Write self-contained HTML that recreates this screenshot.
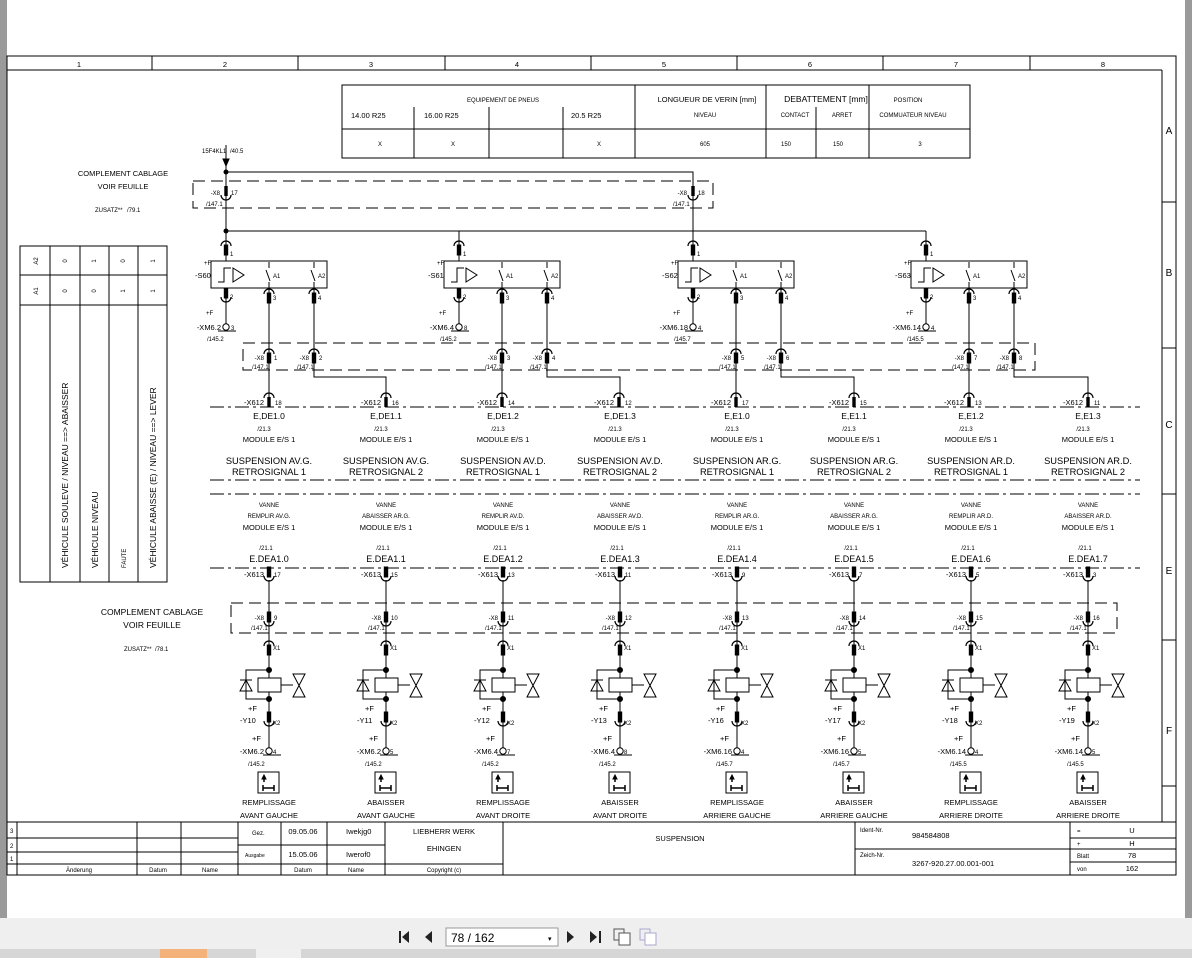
<!DOCTYPE html>
<html><head><meta charset="utf-8"><style>
html,body{margin:0;padding:0;width:1192px;height:958px;overflow:hidden;background:#9a9a9a;font-family:"Liberation Sans",sans-serif}
svg{position:absolute;left:0;top:0}
text{font-family:"Liberation Sans",sans-serif;fill:#000}
.s{font-size:6px}.m{font-size:7.5px}.l{font-size:9.5px}.c{text-anchor:middle}.r{text-anchor:end}
</style></head><body>
<svg width="1192" height="958" viewBox="0 0 1192 958">
<defs>
<g id="cu"><path d="M-5,5 A5,5 0 0 1 5,5" fill="none" stroke="#000" stroke-width="1.2"/><rect x="-1.7" y="4" width="3.4" height="10" fill="#000"/></g>
<g id="cd"><rect x="-1.7" y="0" width="3.4" height="10" fill="#000"/><path d="M-5,9 A5,5 0 0 0 5,9" fill="none" stroke="#000" stroke-width="1.2"/></g>
<g id="sw" stroke="#000" fill="none" stroke-width="1">
<line x1="0" y1="231" x2="0" y2="261"/>
<rect x="-15" y="261" width="116" height="27" fill="#fff"/>
<line x1="0" y1="288" x2="0" y2="324"/>
<circle cx="0" cy="327" r="3.2" fill="#fff"/>
<line x1="-8" y1="331" x2="10" y2="331"/>
<path d="M-8,282 H-2 V268 H5"/><path d="M7,268 L7,282 L18,275 Z"/>
<path d="M43,262 V268 M40,270 L44,281 M43,282 V288"/>
<path d="M88,262 V268 M85,270 L89,281 M88,282 V288"/>
<path d="M43,289 V398"/>
<use href="#cu" y="241"/><use href="#cd" y="288"/><use href="#cu" x="43" y="289"/><use href="#cu" x="88" y="289"/>
<use href="#cu" x="43" y="349"/><use href="#cu" x="88" y="349"/>
</g>
<g id="vv" stroke="#000" fill="none" stroke-width="1">
<line x1="0" y1="580" x2="0" y2="748"/>
<path d="M0,670 H-23 V699 H0"/>
<rect x="-11" y="678" width="23" height="14" fill="#fff"/>
<path d="M-29,691 H-17 L-23,680 Z M-29,680 H-17"/>
<path d="M12,685 H24 M24,674 H36 L24,697 H36 Z"/>
<circle cx="0" cy="670" r="2.5" fill="#000"/><circle cx="0" cy="699" r="2.5" fill="#000"/>
<circle cx="0" cy="751" r="3.2" fill="#fff"/><line x1="-6" y1="755" x2="12" y2="755"/>
<rect x="-11" y="772" width="21" height="21"/>
<path d="M-6,788 H5 M-6,785 V791 M5,785 V791" stroke-width="1.5"/>
<path d="M-5,782 V776" stroke-width="1.5"/><path d="M-7,779 L-5,775 L-3,779 Z" fill="#000"/>
<use href="#cd" y="567"/><use href="#cd" y="612"/><use href="#cu" y="641"/><use href="#cd" y="712"/>
</g>
</defs>

<rect x="7" y="0" width="1178" height="918" fill="#fff"/>
<rect x="0" y="918" width="1192" height="40" fill="#efefef"/>
<rect x="0" y="949" width="1192" height="9" fill="#d6d6d6"/>
<rect x="160" y="949" width="47" height="9" fill="#f4b27a"/>
<rect x="256" y="949" width="45" height="9" fill="#f0f0f0"/>

<!-- frame -->
<g stroke="#000" fill="none" stroke-width="1">
<rect x="7" y="56" width="1169" height="819"/>
<line x1="7" y1="70" x2="1162" y2="70"/>
<line x1="1162" y1="70" x2="1162" y2="822"/>
<line x1="1162" y1="202" x2="1176" y2="202"/><line x1="1162" y1="348" x2="1176" y2="348"/>
<line x1="1162" y1="494" x2="1176" y2="494"/><line x1="1162" y1="640" x2="1176" y2="640"/>
<line x1="1162" y1="786" x2="1176" y2="786"/>
<path d="M152,56V70M298,56V70M445,56V70M591,56V70M737,56V70M883,56V70M1030,56V70"/>
</g>
<g class="m c">
<text x="79" y="67" class="c">1</text><text x="225" y="67" class="c">2</text><text x="371" y="67" class="c">3</text><text x="517" y="67" class="c">4</text><text x="664" y="67" class="c">5</text><text x="810" y="67" class="c">6</text><text x="956" y="67" class="c">7</text><text x="1103" y="67" class="c">8</text>
<text x="1169" y="134" class="c" font-size="10">A</text><text x="1169" y="276" class="c" font-size="10">B</text><text x="1169" y="428" class="c" font-size="10">C</text><text x="1169" y="574" class="c" font-size="10">E</text><text x="1169" y="734" class="c" font-size="10">F</text>
</g>

<!-- header table -->
<g stroke="#000" fill="none" stroke-width="1">
<rect x="342" y="85" width="628" height="73"/>
<path d="M342,129H970 M635,85V158 M766,85V158 M869,85V158 M414,107V158 M489,107V158 M563,107V158 M816,107V158"/>
</g>
<text x="503" y="102" class="s c">EQUIPEMENT DE PNEUS</text>
<text x="351" y="118" class="m">14.00 R25</text><text x="424" y="118" class="m">16.00 R25</text><text x="571" y="118" class="m">20.5 R25</text>
<text x="707" y="102" class="m c" font-size="8.5">LONGUEUR DE VERIN [mm]</text><text x="705" y="117" class="s c">NIVEAU</text>
<text x="826" y="102" class="c" font-size="8.5">DEBATTEMENT [mm]</text><text x="795" y="117" class="s c">CONTACT</text><text x="842" y="117" class="s c">ARRET</text>
<text x="908" y="102" class="s c">POSITION</text><text x="913" y="117" class="s c">COMMUATEUR NIVEAU</text>
<g class="s c"><text x="380" y="146">X</text><text x="453" y="146">X</text><text x="599" y="146">X</text><text x="705" y="146">605</text><text x="786" y="146">150</text><text x="838" y="146">150</text><text x="920" y="146">3</text></g>

<!-- left notes -->
<text x="123" y="176" class="m c" font-size="8.5">COMPLEMENT CABLAGE</text><text x="123" y="189" class="m c" font-size="8.5">VOIR FEUILLE</text>
<text x="95" y="212" class="s">ZUSATZ**</text><text x="127" y="212" class="s">/79.1</text>
<text x="152" y="615" class="c" font-size="8.5">COMPLEMENT CABLAGE</text><text x="152" y="628" class="c" font-size="8.5">VOIR FEUILLE</text>
<text x="124" y="651" class="s">ZUSATZ**</text><text x="155" y="651" class="s">/78.1</text>

<g stroke="#000" fill="none" stroke-width="1">
<rect x="20" y="246" width="147" height="336"/>
<path d="M50,246V582 M80,246V582 M109,246V582 M138,246V582 M20,275H167 M20,305H167"/>
</g>
<g class="s c">
<text transform="translate(38,261) rotate(-90)">A2</text><text transform="translate(38,291) rotate(-90)">A1</text>
<text transform="translate(67,261) rotate(-90)">0</text><text transform="translate(67,291) rotate(-90)">0</text>
<text transform="translate(96,261) rotate(-90)">1</text><text transform="translate(96,291) rotate(-90)">0</text>
<text transform="translate(125,261) rotate(-90)">0</text><text transform="translate(125,291) rotate(-90)">1</text>
<text transform="translate(155,261) rotate(-90)">1</text><text transform="translate(155,291) rotate(-90)">1</text>
</g>
<g font-size="8.5">
<text transform="translate(68,568) rotate(-90)">VÉHICULE SOULEVE / NIVEAU ==&gt; ABAISSER</text>
<text transform="translate(98,568) rotate(-90)">VÉHICULE NIVEAU</text>
<text transform="translate(126,568) rotate(-90)" font-size="6">FAUTE</text>
<text transform="translate(156,568) rotate(-90)">VÉHICULE ABAISSE (E) / NIVEAU ==&gt; LEVER</text>
</g>

<!-- top wiring -->
<g stroke="#000" fill="none" stroke-width="1">
<line x1="226" y1="145" x2="226" y2="231"/>
<path d="M223,159 L229,159 L226,166 Z" fill="#000"/>
<path d="M226,172 H693 V231 M226,231 H926"/>
<path d="M459,231V241 M693,231V241 M926,231V241"/>
<rect x="193" y="181" width="520" height="27" stroke-dasharray="12,6"/>
<rect x="243" y="343" width="792" height="27" stroke-dasharray="12,6"/>
<rect x="231" y="603" width="886" height="30" stroke-dasharray="12,6"/>
<path d="M210,407H1140 M210,480H1140 M210,494H1140 M210,568H1140" stroke-dasharray="14,4,3,4"/>
</g>
<circle cx="226" cy="172" r="2.5"/><circle cx="226" cy="231" r="2.5"/>
<use href="#cd" x="226" y="186"/><use href="#cd" x="693" y="186"/>
<text x="202" y="153" class="s">15F4KL1</text><text x="230" y="153" class="s">/40.5</text>
<text x="220" y="195" class="s r">-X8</text><text x="231" y="195" class="s">17</text><text x="206" y="206" class="s">/147.1</text>
<text x="687" y="195" class="s r">-X8</text><text x="698" y="195" class="s">18</text><text x="673" y="206" class="s">/147.1</text>

<!-- switches -->
<g transform="translate(226,0)"><use href="#sw"/><path d="M88,289V377H160V398" stroke="#000" fill="none"/></g>
<g transform="translate(459,0)"><use href="#sw"/><path d="M88,289V377H161V398" stroke="#000" fill="none"/></g>
<g transform="translate(693,0)"><use href="#sw"/><path d="M88,289V377H161V398" stroke="#000" fill="none"/></g>
<g transform="translate(926,0)"><use href="#sw"/><path d="M88,289V377H162V398" stroke="#000" fill="none"/></g>
<g class="s">
<text x="204" y="265">+F</text><text x="195" y="278" class="m">-S60</text><text x="230" y="256">1</text><text x="230" y="299">2</text><text x="273" y="278">A1</text><text x="318" y="278">A2</text><text x="273" y="300">3</text><text x="318" y="300">4</text>
<text x="206" y="315">+F</text><text x="221" y="330" class="r m">-XM6.2</text><text x="231" y="330">3</text><text x="207" y="341">/145.2</text>
<text x="437" y="265">+F</text><text x="428" y="278" class="m">-S61</text><text x="463" y="256">1</text><text x="463" y="299">2</text><text x="506" y="278">A1</text><text x="551" y="278">A2</text><text x="506" y="300">3</text><text x="551" y="300">4</text>
<text x="439" y="315">+F</text><text x="454" y="330" class="r m">-XM6.4</text><text x="464" y="330">8</text><text x="440" y="341">/145.2</text>
<text x="671" y="265">+F</text><text x="662" y="278" class="m">-S62</text><text x="697" y="256">1</text><text x="697" y="299">2</text><text x="740" y="278">A1</text><text x="785" y="278">A2</text><text x="740" y="300">3</text><text x="785" y="300">4</text>
<text x="673" y="315">+F</text><text x="688" y="330" class="r m">-XM6.18</text><text x="698" y="330">4</text><text x="674" y="341">/145.7</text>
<text x="904" y="265">+F</text><text x="895" y="278" class="m">-S63</text><text x="930" y="256">1</text><text x="930" y="299">2</text><text x="973" y="278">A1</text><text x="1018" y="278">A2</text><text x="973" y="300">3</text><text x="1018" y="300">4</text>
<text x="906" y="315">+F</text><text x="921" y="330" class="r m">-XM6.14</text><text x="931" y="330">4</text><text x="907" y="341">/145.5</text>
<text x="264" y="360" class="r">-X8</text><text x="274" y="360">1</text><text x="252" y="369">/147.1</text>
<text x="309" y="360" class="r">-X8</text><text x="319" y="360">2</text><text x="297" y="369">/147.1</text>
<text x="497" y="360" class="r">-X8</text><text x="507" y="360">3</text><text x="485" y="369">/147.1</text>
<text x="542" y="360" class="r">-X8</text><text x="552" y="360">4</text><text x="530" y="369">/147.1</text>
<text x="731" y="360" class="r">-X8</text><text x="741" y="360">5</text><text x="719" y="369">/147.1</text>
<text x="776" y="360" class="r">-X8</text><text x="786" y="360">6</text><text x="764" y="369">/147.1</text>
<text x="964" y="360" class="r">-X8</text><text x="974" y="360">7</text><text x="952" y="369">/147.1</text>
<text x="1009" y="360" class="r">-X8</text><text x="1019" y="360">8</text><text x="997" y="369">/147.1</text>
</g>

<!-- X612 row -->
<g><use href="#cu" x="269" y="393"/><use href="#cu" x="386" y="393"/><use href="#cu" x="502" y="393"/><use href="#cu" x="619" y="393"/><use href="#cu" x="736" y="393"/><use href="#cu" x="854" y="393"/><use href="#cu" x="969" y="393"/><use href="#cu" x="1088" y="393"/></g>
<g class="m">
<text x="264" y="405" class="r">-X612</text><text x="275" y="405" class="s">18</text>
<text x="381" y="405" class="r">-X612</text><text x="392" y="405" class="s">16</text>
<text x="497" y="405" class="r">-X612</text><text x="508" y="405" class="s">14</text>
<text x="614" y="405" class="r">-X612</text><text x="625" y="405" class="s">12</text>
<text x="731" y="405" class="r">-X612</text><text x="742" y="405" class="s">17</text>
<text x="849" y="405" class="r">-X612</text><text x="860" y="405" class="s">15</text>
<text x="964" y="405" class="r">-X612</text><text x="975" y="405" class="s">13</text>
<text x="1083" y="405" class="r">-X612</text><text x="1094" y="405" class="s">11</text>
</g>
<g class="c">
<g font-size="8.5"><text x="269" y="419">E,DE1.0</text><text x="386" y="419">E,DE1.1</text><text x="503" y="419">E,DE1.2</text><text x="620" y="419">E,DE1.3</text><text x="737" y="419">E,E1.0</text><text x="854" y="419">E,E1.1</text><text x="971" y="419">E,E1.2</text><text x="1088" y="419">E,E1.3</text></g>
<g class="s"><text x="264" y="431">/21.3</text><text x="381" y="431">/21.3</text><text x="498" y="431">/21.3</text><text x="615" y="431">/21.3</text><text x="732" y="431">/21.3</text><text x="849" y="431">/21.3</text><text x="966" y="431">/21.3</text><text x="1083" y="431">/21.3</text></g>
<g class="m"><text x="269" y="442">MODULE E/S 1</text><text x="386" y="442">MODULE E/S 1</text><text x="503" y="442">MODULE E/S 1</text><text x="620" y="442">MODULE E/S 1</text><text x="737" y="442">MODULE E/S 1</text><text x="854" y="442">MODULE E/S 1</text><text x="971" y="442">MODULE E/S 1</text><text x="1088" y="442">MODULE E/S 1</text></g>
<g font-size="9.3">
<text x="269" y="464">SUSPENSION AV.G.</text><text x="269" y="475">RETROSIGNAL 1</text>
<text x="386" y="464">SUSPENSION AV.G.</text><text x="386" y="475">RETROSIGNAL 2</text>
<text x="503" y="464">SUSPENSION AV.D.</text><text x="503" y="475">RETROSIGNAL 1</text>
<text x="620" y="464">SUSPENSION AV.D.</text><text x="620" y="475">RETROSIGNAL 2</text>
<text x="737" y="464">SUSPENSION AR.G.</text><text x="737" y="475">RETROSIGNAL 1</text>
<text x="854" y="464">SUSPENSION AR.G.</text><text x="854" y="475">RETROSIGNAL 2</text>
<text x="971" y="464">SUSPENSION AR.D.</text><text x="971" y="475">RETROSIGNAL 1</text>
<text x="1088" y="464">SUSPENSION AR.D.</text><text x="1088" y="475">RETROSIGNAL 2</text>
</g>
<g class="s" font-size="6.5">
<text x="269" y="507">VANNE</text><text x="269" y="518">REMPLIR AV.G.</text>
<text x="386" y="507">VANNE</text><text x="386" y="518">ABAISSER AR.G.</text>
<text x="503" y="507">VANNE</text><text x="503" y="518">REMPLIR AV.D.</text>
<text x="620" y="507">VANNE</text><text x="620" y="518">ABAISSER AV.D.</text>
<text x="737" y="507">VANNE</text><text x="737" y="518">REMPLIR AR.G.</text>
<text x="854" y="507">VANNE</text><text x="854" y="518">ABAISSER AR.G.</text>
<text x="971" y="507">VANNE</text><text x="971" y="518">REMPLIR AR.D.</text>
<text x="1088" y="507">VANNE</text><text x="1088" y="518">ABAISSER AR.D.</text>
</g>
<g class="m"><text x="269" y="530">MODULE E/S 1</text><text x="386" y="530">MODULE E/S 1</text><text x="503" y="530">MODULE E/S 1</text><text x="620" y="530">MODULE E/S 1</text><text x="737" y="530">MODULE E/S 1</text><text x="854" y="530">MODULE E/S 1</text><text x="971" y="530">MODULE E/S 1</text><text x="1088" y="530">MODULE E/S 1</text></g>
<g class="s"><text x="266" y="550">/21.1</text><text x="383" y="550">/21.1</text><text x="500" y="550">/21.1</text><text x="617" y="550">/21.1</text><text x="734" y="550">/21.1</text><text x="851" y="550">/21.1</text><text x="968" y="550">/21.1</text><text x="1085" y="550">/21.1</text></g>
<g font-size="9"><text x="269" y="562">E.DEA1.0</text><text x="386" y="562">E.DEA1.1</text><text x="503" y="562">E.DEA1.2</text><text x="620" y="562">E.DEA1.3</text><text x="737" y="562">E.DEA1.4</text><text x="854" y="562">E.DEA1.5</text><text x="971" y="562">E.DEA1.6</text><text x="1088" y="562">E.DEA1.7</text></g>
</g>

<!-- valves -->
<use href="#vv" x="269"/><use href="#vv" x="386"/><use href="#vv" x="503"/><use href="#vv" x="620"/><use href="#vv" x="737"/><use href="#vv" x="854"/><use href="#vv" x="971"/><use href="#vv" x="1088"/>
<g class="s">
<text x="264" y="577" class="r m">-X613</text><text x="274" y="577">17</text>
<text x="381" y="577" class="r m">-X613</text><text x="391" y="577">15</text>
<text x="498" y="577" class="r m">-X613</text><text x="508" y="577">13</text>
<text x="615" y="577" class="r m">-X613</text><text x="625" y="577">11</text>
<text x="732" y="577" class="r m">-X613</text><text x="742" y="577">9</text>
<text x="849" y="577" class="r m">-X613</text><text x="859" y="577">7</text>
<text x="966" y="577" class="r m">-X613</text><text x="976" y="577">5</text>
<text x="1083" y="577" class="r m">-X613</text><text x="1093" y="577">3</text>
</g>
<g class="s">
<text x="264" y="620" class="r">-X8</text><text x="274" y="620">9</text><text x="251" y="630">/147.1</text>
<text x="381" y="620" class="r">-X8</text><text x="391" y="620">10</text><text x="368" y="630">/147.1</text>
<text x="498" y="620" class="r">-X8</text><text x="508" y="620">11</text><text x="485" y="630">/147.1</text>
<text x="615" y="620" class="r">-X8</text><text x="625" y="620">12</text><text x="602" y="630">/147.1</text>
<text x="732" y="620" class="r">-X8</text><text x="742" y="620">13</text><text x="719" y="630">/147.1</text>
<text x="849" y="620" class="r">-X8</text><text x="859" y="620">14</text><text x="836" y="630">/147.1</text>
<text x="966" y="620" class="r">-X8</text><text x="976" y="620">15</text><text x="953" y="630">/147.1</text>
<text x="1083" y="620" class="r">-X8</text><text x="1093" y="620">16</text><text x="1070" y="630">/147.1</text>
</g>
<g class="s">
<text x="273" y="650">X1</text><text x="390" y="650">X1</text><text x="507" y="650">X1</text><text x="624" y="650">X1</text><text x="741" y="650">X1</text><text x="858" y="650">X1</text><text x="975" y="650">X1</text><text x="1092" y="650">X1</text>
<text x="273" y="725">X2</text><text x="390" y="725">X2</text><text x="507" y="725">X2</text><text x="624" y="725">X2</text><text x="741" y="725">X2</text><text x="858" y="725">X2</text><text x="975" y="725">X2</text><text x="1092" y="725">X2</text>
</g>
<g class="m">
<text x="248" y="711">+F</text><text x="240" y="723">-Y10</text><text x="252" y="741">+F</text><text x="264" y="754" class="r">-XM6.2</text><text x="273" y="754" class="s">4</text><text x="248" y="766" class="s">/145.2</text>
<text x="365" y="711">+F</text><text x="357" y="723">-Y11</text><text x="369" y="741">+F</text><text x="381" y="754" class="r">-XM6.2</text><text x="390" y="754" class="s">5</text><text x="365" y="766" class="s">/145.2</text>
<text x="482" y="711">+F</text><text x="474" y="723">-Y12</text><text x="486" y="741">+F</text><text x="498" y="754" class="r">-XM6.4</text><text x="507" y="754" class="s">7</text><text x="482" y="766" class="s">/145.2</text>
<text x="599" y="711">+F</text><text x="591" y="723">-Y13</text><text x="603" y="741">+F</text><text x="615" y="754" class="r">-XM6.4</text><text x="624" y="754" class="s">8</text><text x="599" y="766" class="s">/145.2</text>
<text x="716" y="711">+F</text><text x="708" y="723">-Y16</text><text x="720" y="741">+F</text><text x="732" y="754" class="r">-XM6.16</text><text x="741" y="754" class="s">4</text><text x="716" y="766" class="s">/145.7</text>
<text x="833" y="711">+F</text><text x="825" y="723">-Y17</text><text x="837" y="741">+F</text><text x="849" y="754" class="r">-XM6.16</text><text x="858" y="754" class="s">5</text><text x="833" y="766" class="s">/145.7</text>
<text x="950" y="711">+F</text><text x="942" y="723">-Y18</text><text x="954" y="741">+F</text><text x="966" y="754" class="r">-XM6.14</text><text x="975" y="754" class="s">4</text><text x="950" y="766" class="s">/145.5</text>
<text x="1067" y="711">+F</text><text x="1059" y="723">-Y19</text><text x="1071" y="741">+F</text><text x="1083" y="754" class="r">-XM6.14</text><text x="1092" y="754" class="s">5</text><text x="1067" y="766" class="s">/145.5</text>
</g>
<g class="c" font-size="7.5">
<text x="269" y="805">REMPLISSAGE</text><text x="269" y="818">AVANT GAUCHE</text>
<text x="386" y="805">ABAISSER</text><text x="386" y="818">AVANT GAUCHE</text>
<text x="503" y="805">REMPLISSAGE</text><text x="503" y="818">AVANT DROITE</text>
<text x="620" y="805">ABAISSER</text><text x="620" y="818">AVANT DROITE</text>
<text x="737" y="805">REMPLISSAGE</text><text x="737" y="818">ARRIERE GAUCHE</text>
<text x="854" y="805">ABAISSER</text><text x="854" y="818">ARRIERE GAUCHE</text>
<text x="971" y="805">REMPLISSAGE</text><text x="971" y="818">ARRIERE DROITE</text>
<text x="1088" y="805">ABAISSER</text><text x="1088" y="818">ARRIERE DROITE</text>
</g>

<!-- title block -->
<g stroke="#000" fill="none" stroke-width="1">
<line x1="7" y1="822" x2="1176" y2="822"/>
<path d="M17,822V875 M137,822V875 M181,822V875 M238,822V875 M281,822V875 M327,822V875 M385,822V875 M503,822V875 M855,822V875 M1070,822V875"/>
<path d="M7,838H238 M7,852H238 M7,864H503 M238,845H385 M855,849H1070 M1070,838H1176 M1070,849H1176 M1070,862H1176"/>
</g>
<g class="s">
<text x="10" y="833">3</text><text x="10" y="848">2</text><text x="10" y="861">1</text>
<text x="79" y="872" class="c">Änderung</text><text x="158" y="872" class="c">Datum</text><text x="210" y="872" class="c">Name</text>
<text x="252" y="835">Gez.</text><text x="245" y="857" font-size="5">Ausgabe</text>
<text x="303" y="872" class="c">Datum</text><text x="356" y="872" class="c">Name</text><text x="444" y="872" class="c">Copyright (c)</text>
<text x="860" y="832">Ident-Nr.</text><text x="860" y="857">Zeich-Nr.</text>
<text x="1077" y="833">=</text><text x="1077" y="846">+</text><text x="1077" y="858">Blatt</text><text x="1077" y="871">von</text>
</g>
<g class="m">
<text x="303" y="834" class="c">09.05.06</text><text x="303" y="857" class="c">15.05.06</text>
<text x="346" y="834">Iwekjg0</text><text x="346" y="857">Iwerof0</text>
<text x="444" y="834" class="c">LIEBHERR WERK</text><text x="444" y="851" class="c">EHINGEN</text>
<text x="680" y="841" class="c">SUSPENSION</text>
<text x="912" y="838">984584808</text><text x="912" y="866">3267-920.27.00.001-001</text>
<text x="1132" y="833" class="c">U</text><text x="1132" y="846" class="c">H</text><text x="1132" y="858" class="c">78</text><text x="1132" y="871" class="c">162</text>
</g>

<!-- toolbar -->
<g fill="#222">
<path d="M399,931V943H401V931Z M409,931L402,937L409,943Z"/>
<path d="M432,931L425,937L432,943Z"/>
<path d="M567,931L574,937L567,943Z"/>
<path d="M590,931L597,937L590,943Z M599,931V943H601V931Z"/>
</g>
<rect x="446" y="928" width="112" height="18" fill="#fff" stroke="#999"/>
<text x="451" y="942" font-size="12">78 / 162</text>
<text x="548" y="941" font-size="7">▾</text>
<g stroke="#555" fill="none"><rect x="614" y="929" width="10" height="11"/><rect x="619" y="933" width="11" height="12" fill="#fff"/></g>
<g stroke="#aac" fill="none"><rect x="640" y="929" width="10" height="11"/><rect x="645" y="933" width="11" height="12" fill="#fff"/></g>
</svg>
</body></html>
